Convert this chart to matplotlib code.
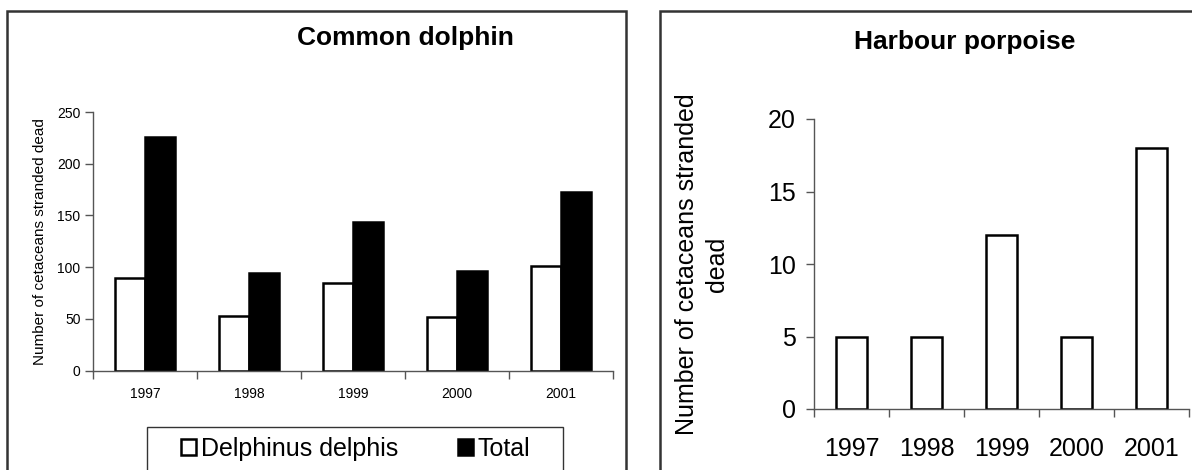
import numpy as np
import matplotlib
matplotlib.use("Agg")
import matplotlib.pyplot as plt
from matplotlib.patches import Rectangle

plt.rcParams['font.family'] = ['Liberation Sans', 'DejaVu Sans']

years = ['1997', '1998', '1999', '2000', '2001']
delphinus = [89, 53, 85, 52, 101]
dolphin_total = [226, 94, 144, 96, 173]
porpoise = [5, 5, 12, 5, 18]

W, H = 1192, 470
fig = plt.figure(figsize=(W / 100, H / 100), dpi=100)


def px_rect(x0, y0, x1, y1):
    # pixel box (top-left origin) -> figure fraction [l, b, w, h]
    return [x0 / W, 1 - y1 / H, (x1 - x0) / W, (y1 - y0) / H]


def style_axes(ax, label_size, xpad, ypad):
    for side in ['top', 'right']:
        ax.spines[side].set_visible(False)
    for side in ['left', 'bottom']:
        ax.spines[side].set_color('#555555')
        ax.spines[side].set_linewidth(1.0)
    n = len(years)
    ax.set_xlim(-0.5, n - 0.5)
    # ticks sit between categories, labels at the centres
    ax.set_xticks(np.arange(n + 1) - 0.5)
    ax.set_xticklabels([])
    ax.set_xticks(np.arange(n), minor=True)
    ax.set_xticklabels(years, minor=True)
    ax.tick_params(axis='x', which='major', direction='out', length=6,
                   color='#555555', width=1.0)
    ax.tick_params(axis='x', which='minor', length=0, labelsize=label_size,
                   pad=xpad)
    ax.tick_params(axis='y', direction='out', length=6, color='#555555',
                   width=1.0, labelsize=label_size, pad=ypad)


# frames around each chart
fig.add_artist(Rectangle((7 / W, -0.1), (626 - 7) / W, 1.1 - 11 / H,
                         transform=fig.transFigure, fill=False,
                         edgecolor='#333333', linewidth=1.8, clip_on=False))
fig.add_artist(Rectangle((660 / W, -0.1), 0.5, 1.1 - 11 / H,
                         transform=fig.transFigure, fill=False,
                         edgecolor='#333333', linewidth=1.8, clip_on=False))

# Common dolphin
ax1 = fig.add_axes(px_rect(93, 112, 613, 370.5))
x = np.arange(len(years))
bw = 0.29
b1 = ax1.bar(x - bw / 2, delphinus, bw, color='white', edgecolor='black',
             linewidth=1.8, label='Delphinus delphis')
b2 = ax1.bar(x + bw / 2, dolphin_total, bw, color='black', edgecolor='black',
             linewidth=1.8, label='Total')
ax1.set_ylim(0, 250)
ax1.set_yticks(np.arange(0, 251, 50))
style_axes(ax1, 10, 12, 3)
ax1.set_ylabel('Number of cetaceans stranded dead', fontsize=11, labelpad=7)
fig.text(405 / W, 1 - 38 / H, 'Common dolphin', ha='center', va='center',
         fontsize=19, fontweight='bold')

fig.add_artist(Rectangle((147 / W, -0.1), (563 - 147) / W, 0.1 + 1 - 427 / H,
                         transform=fig.transFigure, fill=False,
                         edgecolor='#333333', linewidth=1.0, clip_on=False))
fig.legend(handles=[b1, b2], loc='center', bbox_to_anchor=(355.5 / W, 1 - 449 / H),
           ncol=2, frameon=False, fontsize=18, handlelength=0.6,
           handleheight=0.6, handletextpad=0.2, columnspacing=2.4)

# Harbour porpoise
ax2 = fig.add_axes(px_rect(814, 119, 1189, 409))
ax2.bar(x, porpoise, 0.41, color='white', edgecolor='black', linewidth=1.8)
ax2.set_ylim(0, 20)
ax2.set_yticks(np.arange(0, 21, 5))
style_axes(ax2, 18, 20, 7)
ax2.set_ylabel('Number of cetaceans stranded\ndead', fontsize=18,
               labelpad=28, linespacing=1.3)
fig.text(965 / W, 1 - 42 / H, 'Harbour porpoise', ha='center', va='center',
         fontsize=19, fontweight='bold')

fig.savefig('out.png', dpi=100)
